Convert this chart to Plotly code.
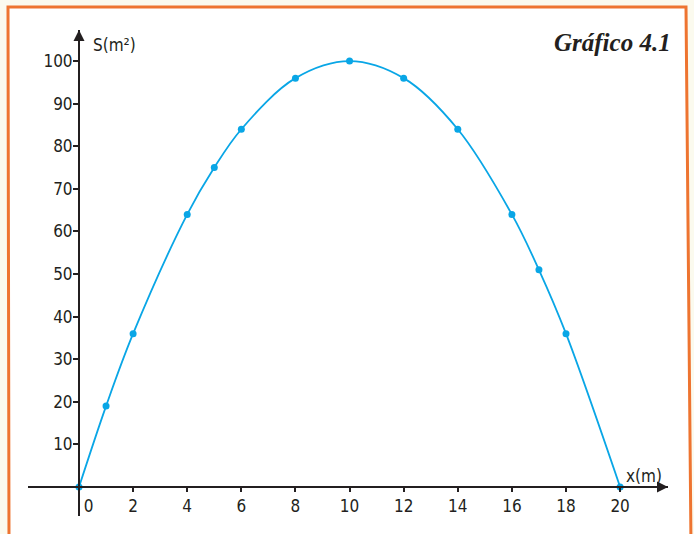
import plotly.graph_objects as go

# S(x) = x * (20 - x): area of the rectangle vs. side length
x_vals = [0, 1, 2, 4, 5, 6, 8, 10, 12, 14, 16, 17, 18, 20]
s_vals = [0, 19, 36, 64, 75, 84, 96, 100, 96, 84, 64, 51, 36, 0]

x_ticks = [0, 2, 4, 6, 8, 10, 12, 14, 16, 18, 20]
x_tick_text = ["\u2007\u20070", "2", "4", "6", "8", "10", "12", "14", "16", "18", "20"]
y_ticks = [10, 20, 30, 40, 50, 60, 70, 80, 90, 100]

W, H = 694, 534
ML, MR, MT, MB = 28, 26, 30, 18
X_RANGE = [-1.885, 21.77]
Y_RANGE = [-6.8, 107.3]

INK = "#231f20"
BLUE = "#09a6e6"
ORANGE = "#ee7430"
CREAM = "#fbfaee"
NARROW = "Liberation Sans Narrow, DejaVu Sans Condensed, Arial Narrow, sans-serif"


def px(xp, yp):
    """Pixel position on the page -> paper coordinates."""
    pw, ph = W - ML - MR, H - MT - MB
    return (xp - ML) / pw, (H - MB - yp) / ph


def frac(v, rng):
    return (v - rng[0]) / (rng[1] - rng[0])


fig = go.Figure()
fig.add_trace(go.Scatter(
    x=x_vals, y=s_vals,
    mode="lines+markers",
    line=dict(color=BLUE, width=1.8, shape="spline", smoothing=1.0),
    marker=dict(color=BLUE, size=7),
    cliponaxis=False,
    hoverinfo="skip",
))

# framed panel: white inside an orange border, slightly skewed like a scan
corners = [px(8, 7), px(686, 7), px(691, 545), px(9, 545)]
path = "M {} {} L {} {} L {} {} L {} {} Z".format(*[c for p in corners for c in p])

fig.update_layout(
    width=W, height=H,
    margin=dict(l=ML, r=MR, t=MT, b=MB),
    paper_bgcolor=CREAM,
    plot_bgcolor="rgba(0,0,0,0)",
    showlegend=False,
    font=dict(family=NARROW, size=16, color=INK),
    shapes=[dict(type="path", path=path, xref="paper", yref="paper",
                 fillcolor="white", line=dict(color=ORANGE, width=3),
                 layer="below")],
    xaxis=dict(
        range=X_RANGE, anchor="free", position=frac(0, Y_RANGE),
        showgrid=False, zeroline=False,
        showline=True, linecolor=INK, linewidth=2,
        ticks="outside", ticklen=4, tickwidth=1.5, tickcolor=INK,
        tickvals=x_ticks, ticktext=x_tick_text,
        tickfont=dict(family=NARROW, size=17, color=INK),
    ),
    yaxis=dict(
        range=Y_RANGE, anchor="free", position=frac(0, X_RANGE),
        showgrid=False, zeroline=False,
        showline=True, linecolor=INK, linewidth=2,
        ticks="outside", ticklen=5, tickwidth=1.5, tickcolor=INK,
        tickvals=y_ticks, ticklabelstandoff=-3,
        tickfont=dict(family=NARROW, size=17, color=INK),
    ),
    annotations=[
        # arrowheads at the ends of both axes
        dict(x=0, y=Y_RANGE[1], xref="x", yref="y", text="", showarrow=True,
             ax=0, ay=16, arrowhead=2, arrowsize=1.1, arrowwidth=2, arrowcolor=INK),
        dict(x=X_RANGE[1], y=0, xref="x", yref="y", text="", showarrow=True,
             ax=-16, ay=0, arrowhead=2, arrowsize=1.1, arrowwidth=2, arrowcolor=INK),
        dict(x=0.45, y=103.8, xref="x", yref="y", text="S(m²)", showarrow=False,
             xanchor="left", yanchor="middle", font=dict(family=NARROW, size=17, color=INK)),
        dict(x=20.15, y=2.6, xref="x", yref="y", text="x(m)", showarrow=False,
             xanchor="left", yanchor="middle", font=dict(family=NARROW, size=17, color=INK)),
        dict(x=px(673, 0)[0], y=px(0, 42)[1], xref="paper", yref="paper",
             text="<b><i>Gráfico 4.1</i></b>", showarrow=False,
             xanchor="right", yanchor="middle",
             font=dict(family="Liberation Serif, DejaVu Serif, serif", size=25, color=INK)),
    ],
)

fig.write_html("out.html")
